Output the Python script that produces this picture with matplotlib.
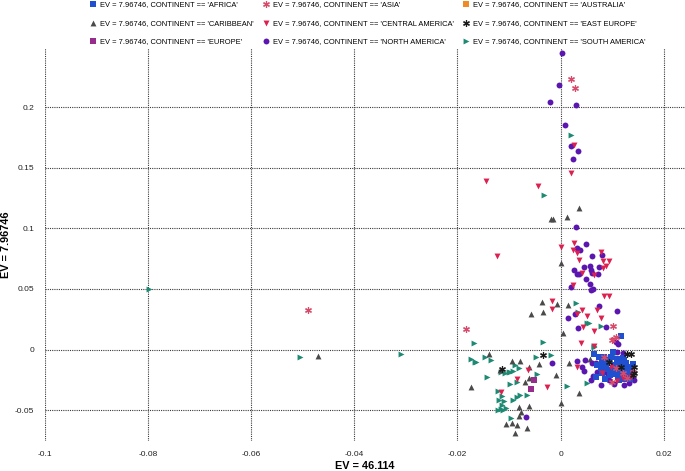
import matplotlib
matplotlib.use("Agg")
import matplotlib.pyplot as plt

plt.rcParams['font.family'] = ['Liberation Sans', 'DejaVu Sans']

# datos por continente (x = EV 46.114, y = EV 7.96746)
africa_x = [0.0116, 0.0065, 0.0084, 0.0097, 0.0110, 0.0120, 0.0081, 0.0090, 0.0103, 0.0115,
            0.0126, 0.0132, 0.0087, 0.0100, 0.0110, 0.0120, 0.0129, 0.0139, 0.0096, 0.0107,
            0.0116, 0.0126, 0.0136, 0.0113, 0.0123, 0.0086, 0.0078, 0.0071, 0.0094, 0.0103,
            0.0081, 0.0129, 0.0123, 0.0111, 0.0134, 0.0074, 0.0101, 0.0140, 0.0068]
africa_y = [0.0115, -0.0034, -0.0059, -0.0064, -0.0080, -0.0072, -0.0113, -0.0108, -0.0127, -0.0113,
            -0.0108, -0.0141, -0.0163, -0.0168, -0.0163, -0.0168, -0.0182, -0.0168, -0.0210, -0.0201,
            -0.0210, -0.0218, -0.0210, -0.0251, -0.0245, -0.0245, -0.0154, -0.0127, -0.0086, -0.0154,
            -0.0196, -0.0141, -0.0086, -0.0224, -0.0245, -0.0061, -0.0020, -0.0119, -0.0224]

asia_x = [-0.0489, -0.0184, 0.0020, 0.0028, 0.0102, 0.0108, 0.0100, 0.0084, 0.0107, 0.0120,
          0.0129, 0.0100, 0.0140]
asia_y = [0.0327, 0.0167, 0.2230, 0.2160, 0.0192, 0.0107, 0.0079, -0.0059, -0.0154, -0.0196,
          -0.0237, -0.0265, -0.0185]

australia_x = [0.0105]
australia_y = [-0.0150]

caribbean_x = [-0.0018, -0.0015, 0.0012, 0.0036, 0.0000, -0.0037, -0.0008, -0.0057, -0.0034, 0.0015,
               0.0004, -0.0470, -0.0139, -0.0078, -0.0095, -0.0042, -0.0061, -0.0009, -0.0069, -0.0062,
               -0.0173, -0.0080, -0.0076, -0.0080, -0.0095, -0.0085, -0.0105, -0.0089, -0.0066, -0.0061,
               -0.0117, 0.0016, 0.0035, 0.0000, 0.0056]
caribbean_y = [0.1080, 0.1080, 0.1090, 0.1170, 0.0717, 0.0393, 0.0376, 0.0296, 0.0308, 0.0368,
               0.0134, -0.0050, -0.0039, -0.0092, -0.0092, -0.0119, -0.0141, -0.0210, -0.0270, -0.0237,
               -0.0311, -0.0476, -0.0512, -0.0548, -0.0608, -0.0622, -0.0614, -0.0691, -0.0650, -0.0465,
               -0.0168, -0.0113, -0.0360, -0.0443, -0.0080]

central_x = [0.0025, 0.0020, -0.0145, -0.0044, 0.0000, 0.0025, -0.0124, 0.0024, 0.0032, 0.0036,
             0.0078, 0.0082, 0.0094, 0.0083, 0.0088, 0.0041, 0.0065, 0.0024, 0.0084, 0.0093,
             -0.0017, -0.0017, 0.0032, 0.0041, 0.0051, 0.0070, 0.0078, 0.0044, 0.0064, 0.0101,
             0.0039, 0.0065, 0.0032, -0.0027, -0.0063, -0.0115, -0.0084, 0.0081, 0.0120, 0.0097,
             0.0136, 0.0110]
central_y = [0.1690, 0.1460, 0.1390, 0.1350, 0.0850, 0.0877, 0.0775, 0.0825, 0.0795, 0.0740,
             0.0805, 0.0730, 0.0730, 0.0676, 0.0687, 0.0635, 0.0618, 0.0536, 0.0442, 0.0442,
             0.0400, 0.0335, 0.0290, 0.0324, 0.0280, 0.0324, 0.0258, 0.0186, 0.0153, 0.0080,
             0.0057, 0.0032, -0.0146, -0.0306, -0.0168, -0.0347, -0.0242, -0.0196, -0.0237, -0.0141,
             -0.0228, -0.0260]

east_x = [-0.0113, -0.0035, 0.0129, 0.0136, 0.0142, 0.0143, 0.0141, 0.0093, 0.0116]
east_y = [-0.0160, -0.0042, -0.0034, -0.0036, -0.0196, -0.0141, -0.0210, -0.0102, -0.0144]

europe_x = [-0.0052, -0.0057]
europe_y = [-0.0251, -0.0328]

north_x = [0.0003, -0.0003, -0.0020, 0.0030, 0.0008, 0.0020, 0.0033, 0.0024, 0.0029, 0.0032,
           0.0038, 0.0049, 0.0061, 0.0080, 0.0074, 0.0046, 0.0056, 0.0026, 0.0058, 0.0031,
           0.0036, 0.0061, 0.0073, 0.0050, 0.0056, 0.0020, 0.0059, 0.0062, 0.0027, 0.0014,
           0.0075, 0.0110, 0.0033, 0.0088, 0.0108, 0.0111, 0.0048, 0.0045, 0.0061, 0.0068,
           0.0063, 0.0059, 0.0079, 0.0094, 0.0103, 0.0123, 0.0132, 0.0142, 0.0139, 0.0071,
           0.0090, 0.0110, 0.0120, 0.0042, 0.0032, -0.0017, -0.0067]
north_y = [0.2450, 0.2180, 0.2040, 0.2020, 0.1850, 0.1680, 0.1640, 0.1570, 0.1010, 0.0840,
           0.0825, 0.0869, 0.0770, 0.0780, 0.0679, 0.0684, 0.0690, 0.0657, 0.0657, 0.0620,
           0.0624, 0.0635, 0.0624, 0.0580, 0.0544, 0.0516, 0.0490, 0.0500, 0.0296, 0.0260,
           0.0360, 0.0316, 0.0178, 0.0190, 0.0065, 0.0046, -0.0086, -0.0174, -0.0113, -0.0108,
           -0.0218, -0.0251, -0.0295, -0.0251, -0.0284, -0.0292, -0.0278, -0.0251, -0.0224, -0.0182,
           -0.0196, -0.0017, -0.0031, -0.0141, -0.0094, -0.0108, -0.0559]

south_x = [-0.0798, -0.0505, -0.0310, 0.0020, -0.0033, 0.0030, 0.0033, 0.0052, 0.0078, -0.0035,
           0.0064, -0.0168, -0.0173, -0.0166, -0.0146, -0.0135, -0.0164, -0.0143, -0.0116, -0.0100,
           -0.0089, -0.0080, -0.0098, -0.0092, -0.0108, -0.0084, -0.0098, -0.0047, -0.0019, -0.0045,
           -0.0114, -0.0109, -0.0119, -0.0092, -0.0079, -0.0065, -0.0085, -0.0116, -0.0121, -0.0111,
           -0.0105, -0.0114, -0.0097, 0.0012, -0.0121, 0.0054, 0.0065, 0.0103, 0.0051]
south_y = [0.0500, -0.0064, -0.0036, 0.1770, 0.1275, 0.0382, 0.0310, 0.0220, 0.0192, 0.0063,
           0.0019, 0.0052, -0.0080, -0.0102, -0.0058, -0.0083, -0.0105, -0.0229, -0.0188, -0.0182,
           -0.0125, -0.0149, -0.0182, -0.0174, -0.0196, -0.0265, -0.0286, -0.0063, -0.0047, -0.0201,
           -0.0383, -0.0421, -0.0416, -0.0416, -0.0375, -0.0377, -0.0394, -0.0493, -0.0498, -0.0498,
           -0.0484, -0.0457, -0.0567, -0.0300, -0.0342, 0.0217, 0.0030, -0.0039, -0.0278]

x_ticks = [-0.1, -0.08, -0.06, -0.04, -0.02, 0, 0.02]
x_tick_labels = ['-0.1', '-0.08', '-0.06', '-0.04', '-0.02', '0', '0.02']
y_ticks = [-0.05, 0, 0.05, 0.1, 0.15, 0.2]
y_tick_labels = ['-0.05', '0', '0.05', '0.1', '0.15', '0.2']

pref = 'EV = 7.96746, CONTINENT == '

fig = plt.figure(figsize=(6.85, 4.71), dpi=100)
ax = fig.add_axes([44.7 / 685, 30 / 471, 1 - 44.7 / 685, (441 - 48) / 471])

ms = 18
h = {}
h['AUSTRALIA'] = ax.scatter(australia_x, australia_y, marker='s', s=ms, color='#f08a24', lw=0, zorder=2)
h['SOUTH AMERICA'] = ax.scatter(south_x, south_y, marker='>', s=ms, color='#1e8a74', lw=0, zorder=3)
h['CARIBBEAN'] = ax.scatter(caribbean_x, caribbean_y, marker='^', s=ms, color='#4a4a4a', lw=0, zorder=3)
h['EUROPE'] = ax.scatter(europe_x, europe_y, marker='s', s=ms, color='#962d8c', lw=0, zorder=3)
h['NORTH AMERICA'] = ax.scatter(north_x, north_y, marker='o', s=ms, color='#5c16b0', lw=0, zorder=4)
h['AFRICA'] = ax.scatter(africa_x, africa_y, marker='s', s=ms, color='#2050d0', lw=0, zorder=5)
h['CENTRAL AMERICA'] = ax.scatter(central_x, central_y, marker='v', s=ms, color='#dc2050', lw=0, zorder=6)
h['ASIA'] = ax.scatter(asia_x, asia_y, marker=(6, 2, 0), s=ms, color='#d84a6a', lw=0.9, zorder=7)
h['EAST EUROPE'] = ax.scatter(east_x, east_y, marker=(6, 2, 0), s=ms, color='#1a1a1a', lw=0.9, zorder=7)

ax.set_xlim(-0.1, 0.0241)
ax.set_ylim(-0.0754, 0.2488)
ax.set_xticks(x_ticks, x_tick_labels)
ax.set_yticks(y_ticks, y_tick_labels)
ax.tick_params(length=0, labelsize=6, colors='#222222')
ax.tick_params(axis='x', pad=7.5)
ax.tick_params(axis='y', pad=7.5)
ax.grid(True, color='#3a3a3a', linestyle=(0, (1, 1)), linewidth=0.8)
ax.set_axisbelow(True)
for s in ax.spines.values():
    s.set_visible(False)

ax.set_xlabel('EV = 46.114', fontsize=7.8, fontweight='bold', labelpad=2)
ax.set_ylabel('EV = 7.96746', fontsize=7.8, fontweight='bold', labelpad=2.5)

# orden por columnas para que la leyenda se lea por filas
order = ['AFRICA', 'CARIBBEAN', 'EUROPE', 'ASIA', 'CENTRAL AMERICA', 'NORTH AMERICA',
         'AUSTRALIA', 'EAST EUROPE', 'SOUTH AMERICA']
fig.legend([h[k] for k in order], [pref + "'" + k + "'" for k in order],
           loc='upper left', bbox_to_anchor=(90 / 685, 1 - 1 / 471), ncol=3, frameon=False,
           fontsize=5.4, handlelength=0.8, handletextpad=0.6, columnspacing=1.15,
           labelspacing=1.5, borderpad=0.0, borderaxespad=0.0, scatterpoints=1)

fig.savefig('out.png', dpi=100)
